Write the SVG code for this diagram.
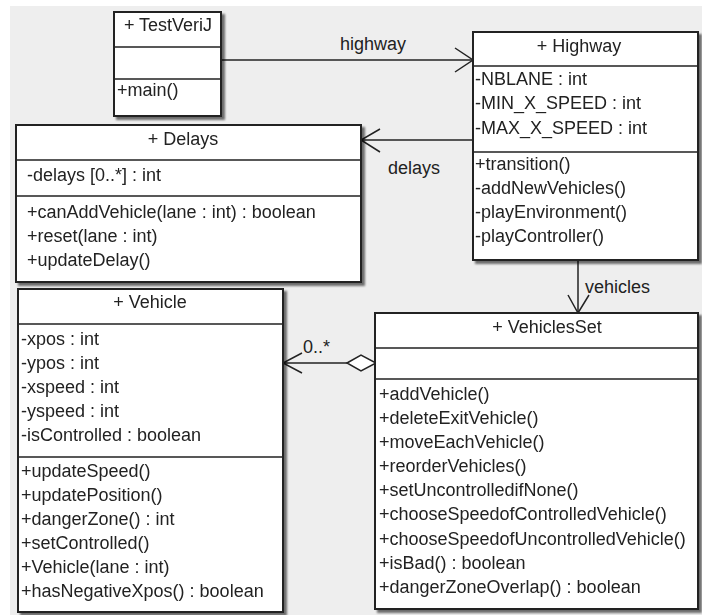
<svg xmlns="http://www.w3.org/2000/svg" width="702" height="615" viewBox="0 0 702 615">
<style>
.box{fill:#ffffff;stroke:#222222;stroke-width:2}
.div{stroke:#222222;stroke-width:1.5;fill:none}
.t{font-family:"Liberation Sans",Arial,sans-serif;font-size:18px;fill:#222222}
.c{text-anchor:middle}
.ln{stroke:#222222;stroke-width:1.5;fill:none}
</style>
<defs>
<filter id="sh" x="-5%" y="-5%" width="115%" height="115%">
<feGaussianBlur in="SourceAlpha" stdDeviation="1"/>
<feOffset dx="3" dy="3" result="o"/>
<feComponentTransfer><feFuncA type="linear" slope="0.55"/></feComponentTransfer>
<feMerge><feMergeNode/><feMergeNode in="SourceGraphic"/></feMerge>
</filter>
</defs>
<rect x="0" y="0" width="702" height="615" fill="#ffffff"/>
<rect x="10" y="6" width="692" height="609" fill="#eeeeee"/>

<g id="connectors">
<g id="e-highway">
<line class="ln" x1="221" y1="60" x2="473" y2="60"/>
<polyline class="ln" points="455,48 473,60 455,72"/>
<text class="t" x="340" y="50">highway</text>
</g>
<g id="e-delays">
<line class="ln" x1="473" y1="140" x2="361" y2="140"/>
<polyline class="ln" points="380,129 361,140 380,152"/>
<text class="t" x="388" y="174">delays</text>
</g>
<g id="e-vehicles">
<line class="ln" x1="578" y1="260" x2="578" y2="313"/>
<polyline class="ln" points="568,295 578,313 589,295"/>
<text class="t" x="585" y="293">vehicles</text>
</g>
<g id="e-aggr">
<line class="ln" x1="283" y1="363" x2="347" y2="363"/>
<polyline class="ln" points="302,353 283,363 302,373"/>
<polygon points="347,363 361,355 376,363 361,371" fill="#ffffff" stroke="#222222" stroke-width="1.5"/>
<text class="t" x="303" y="353">0..*</text>
</g>
</g>

<g id="TestVeriJ" filter="url(#sh)">
<rect class="box" x="114" y="12" width="107" height="104"/>
<line class="div" x1="114" y1="47" x2="221" y2="47"/>
<line class="div" x1="114" y1="79" x2="221" y2="79"/>
<text class="t c" x="168" y="31">+ TestVeriJ</text>
<text class="t" x="117" y="96">+main()</text>
</g>

<g id="Highway" filter="url(#sh)">
<rect class="box" x="473" y="32" width="225" height="228"/>
<line class="div" x1="473" y1="66" x2="698" y2="66"/>
<line class="div" x1="473" y1="152" x2="698" y2="152"/>
<text class="t c" x="579" y="52">+ Highway</text>
<text class="t" x="475" y="85">-NBLANE : int</text>
<text class="t" x="475" y="109">-MIN_X_SPEED : int</text>
<text class="t" x="475" y="134">-MAX_X_SPEED : int</text>
<text class="t" x="475" y="170">+transition()</text>
<text class="t" x="475" y="194">-addNewVehicles()</text>
<text class="t" x="475" y="218">-playEnvironment()</text>
<text class="t" x="475" y="242">-playController()</text>
</g>

<g id="Delays" filter="url(#sh)">
<rect class="box" x="16" y="125" width="345" height="157"/>
<line class="div" x1="16" y1="160" x2="361" y2="160"/>
<line class="div" x1="16" y1="196" x2="361" y2="196"/>
<text class="t c" x="183" y="145">+ Delays</text>
<text class="t" x="27" y="181">-delays [0..*] : int</text>
<text class="t" x="27" y="218">+canAddVehicle(lane : int) : boolean</text>
<text class="t" x="27" y="242">+reset(lane : int)</text>
<text class="t" x="27" y="266">+updateDelay()</text>
</g>

<g id="Vehicle" filter="url(#sh)">
<rect class="box" x="18" y="289" width="265" height="323"/>
<line class="div" x1="18" y1="324" x2="283" y2="324"/>
<line class="div" x1="18" y1="457" x2="283" y2="457"/>
<text class="t c" x="150" y="308">+ Vehicle</text>
<text class="t" x="21" y="345">-xpos : int</text>
<text class="t" x="21" y="369">-ypos : int</text>
<text class="t" x="21" y="393">-xspeed : int</text>
<text class="t" x="21" y="417">-yspeed : int</text>
<text class="t" x="21" y="441">-isControlled : boolean</text>
<text class="t" x="21" y="477">+updateSpeed()</text>
<text class="t" x="21" y="501">+updatePosition()</text>
<text class="t" x="21" y="525">+dangerZone() : int</text>
<text class="t" x="21" y="549">+setControlled()</text>
<text class="t" x="21" y="573">+Vehicle(lane : int)</text>
<text class="t" x="21" y="597">+hasNegativeXpos() : boolean</text>
</g>

<g id="VehiclesSet" filter="url(#sh)">
<rect class="box" x="375" y="313" width="323" height="296"/>
<line class="div" x1="375" y1="348" x2="698" y2="348"/>
<line class="div" x1="375" y1="379" x2="698" y2="379"/>
<text class="t c" x="547" y="333">+ VehiclesSet</text>
<text class="t" x="379" y="400">+addVehicle()</text>
<text class="t" x="379" y="424">+deleteExitVehicle()</text>
<text class="t" x="379" y="448">+moveEachVehicle()</text>
<text class="t" x="379" y="472">+reorderVehicles()</text>
<text class="t" x="379" y="496">+setUncontrolledifNone()</text>
<text class="t" x="379" y="520">+chooseSpeedofControlledVehicle()</text>
<text class="t" x="379" y="545">+chooseSpeedofUncontrolledVehicle()</text>
<text class="t" x="379" y="569">+isBad() : boolean</text>
<text class="t" x="379" y="593">+dangerZoneOverlap() : boolean</text>
</g>
</svg>
